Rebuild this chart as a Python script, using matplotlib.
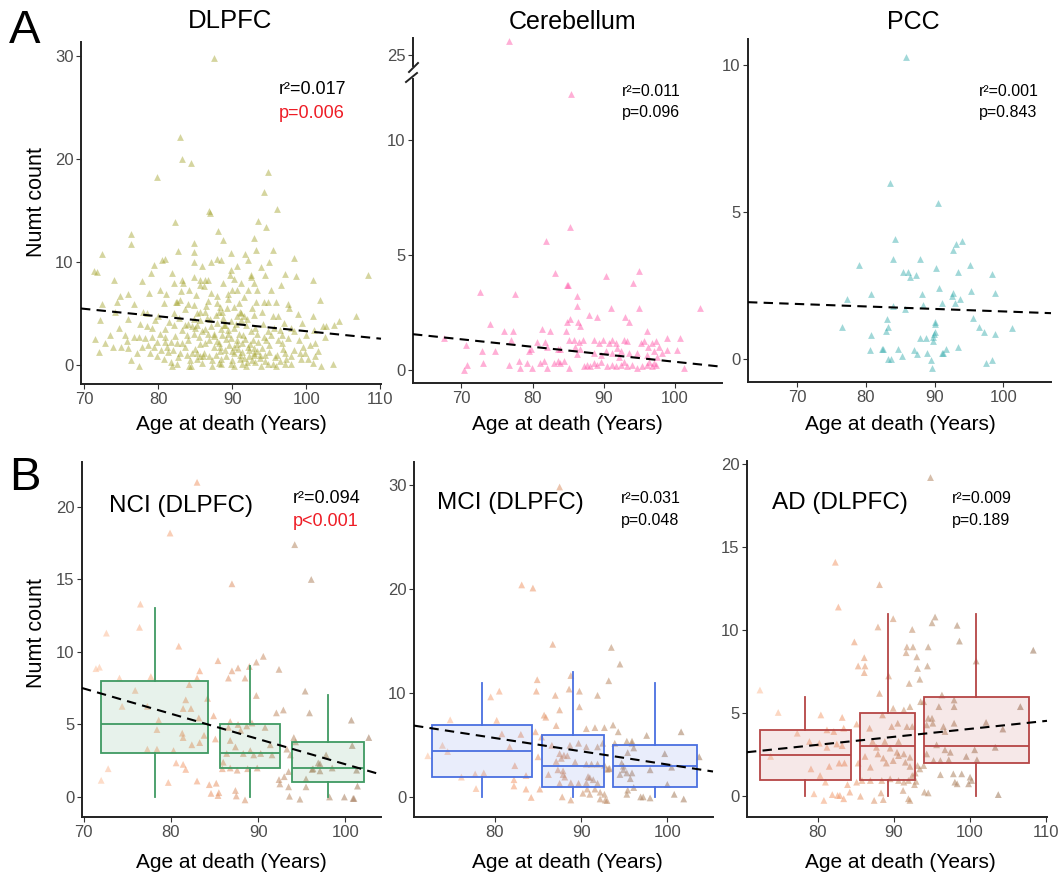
import numpy as np
import matplotlib
matplotlib.use("Agg")
import matplotlib.pyplot as plt
from matplotlib.colors import LinearSegmentedColormap, Normalize
from matplotlib.lines import Line2D

plt.rcParams["font.family"] = ["Liberation Sans", "DejaVu Sans"]

# ----------------------------
# data
# ----------------------------
dlpfc_pts = [
    (87.5, 29.8), (83.0, 22.2), (83.2, 20.0), (84.5, 19.7), (79.9, 18.3), (94.8, 18.8), (94.3, 16.8),
    (96.1, 15.2), (86.9, 15.0), (87.0, 14.8), (93.5, 14.0), (82.3, 13.9), (94.6, 13.4), (88.1, 13.1),
    (76.4, 12.8), (76.3, 11.8), (93.0, 12.4), (88.8, 12.2), (84.9, 11.9), (72.5, 10.8), (71.4, 9.2),
    (71.7, 9.1), (82.7, 11.1), (93.2, 11.2), (95.5, 11.2), (91.8, 10.8), (89.9, 10.9), (98.3, 10.4),
    (80.5, 10.2), (80.9, 10.3), (79.5, 9.8), (87.9, 10.3), (88.5, 10.2), (87.1, 10.0), (84.8, 10.0),
    (84.9, 11.0), (92.1, 10.2), (90.6, 9.7), (95.0, 10.0), (100.9, 8.3), (98.6, 8.7), (106.7, 4.8),
    (108.3, 8.8), (74.1, 8.3), (77.8, 8.2), (83.3, 8.3), (83.4, 8.0), (82.1, 8.0), (84.8, 8.6),
    (85.6, 8.3), (86.3, 8.3), (86.7, 8.3), (88.8, 8.0), (89.8, 9.3), (89.7, 8.8), (92.5, 8.8),
    (92.6, 8.6), (94.4, 8.8), (93.0, 8.0), (85.7, 7.8), (86.2, 7.7), (87.2, 7.0), (89.4, 6.9),
    (90.0, 7.3), (90.7, 7.3), (92.1, 7.3), (93.4, 7.3), (95.2, 7.3), (84.2, 7.3), (80.3, 7.3),
    (81.1, 6.9), (83.0, 6.4), (82.4, 6.2), (82.6, 6.2), (84.8, 5.9), (82.1, 5.1), (80.8, 6.1),
    (75.9, 6.9), (74.8, 6.7), (74.4, 6.2), (72.4, 6.0), (74.2, 5.2), (76.8, 6.0), (78.0, 5.2),
    (78.5, 5.1), (85.7, 5.2), (86.3, 5.2), (88.0, 6.1), (88.2, 5.2), (88.7, 5.2), (90.3, 5.7),
    (91.0, 5.2), (91.2, 5.1), (93.2, 6.2), (94.3, 6.2), (94.8, 6.2), (97.5, 6.0), (97.7, 5.6),
    (95.9, 6.2), (101.8, 6.4), (104.4, 4.3), (103.8, 3.9), (102.7, 3.8), (102.3, 3.8), (100.9, 4.8),
    (99.5, 4.1), (74.7, 3.6), (72.2, 4.4), (72.0, 1.3), (72.9, 2.2), (73.9, 1.8), (75.0, 1.8),
    (76.0, 1.7), (76.7, 2.8), (77.4, 2.8), (77.4, -0.1), (77.8, 1.8), (78.7, 2.0), (79.4, 1.8),
    (79.2, 2.8), (79.9, 0.9), (80.8, 0.6), (81.9, -0.1), (82.6, 0.1), (84.2, -0.1), (84.5, -0.1),
    (81.2, 1.8), (81.7, 2.3), (82.6, 2.2), (83.3, 2.2), (80.3, 3.1), (81.0, 3.5), (82.1, 3.9),
    (83.7, 3.9), (84.6, 3.8), (85.3, 3.9), (83.9, 3.0), (84.8, 3.1), (85.5, 2.8), (83.0, 1.2),
    (83.9, 1.0), (84.6, 1.2), (85.3, 0.6), (85.7, 0.9), (86.4, 2.2), (86.9, 2.5), (87.6, 1.8),
    (88.2, 2.2), (86.2, 1.2), (86.9, 0.9), (87.8, 1.0), (88.5, 0.6), (87.3, -0.1), (88.5, 0.1),
    (90.3, -0.1), (91.4, 0.1), (87.6, 3.1), (88.5, 3.5), (89.4, 3.1), (90.3, 3.6), (88.0, 4.1),
    (88.9, 3.9), (89.8, 4.3), (90.7, 4.8), (91.2, 4.4), (91.9, 3.9), (90.7, 2.5), (91.4, 2.2),
    (92.1, 1.8), (92.8, 2.5), (90.3, 1.2), (91.0, 1.0), (91.6, 0.7), (92.3, 0.9), (93.0, 1.2),
    (93.7, 0.7), (92.3, 1.5), (93.0, 1.7), (93.4, 1.4), (94.1, 1.7), (93.9, -0.1), (94.8, 0.1),
    (95.5, 0.1), (93.4, 3.1), (94.3, 2.8), (94.8, 3.3), (95.7, 3.6), (96.2, 2.5), (96.8, 2.2),
    (97.5, 2.7), (97.1, 1.2), (98.0, 0.9), (98.4, 1.5), (99.1, 1.2), (97.1, 0.1), (98.0, 0.1),
    (99.8, 1.2), (100.2, 0.6), (100.9, 0.2), (101.2, 0.9), (102.0, -0.1), (103.6, 0.1), (100.5, 2.0),
    (101.2, 2.2), (98.4, 3.3), (98.0, 3.6), (96.2, 4.8), (78.5, 3.8), (79.2, 3.6), (79.6, 4.4),
    (85.3, 5.1), (85.7, 4.4), (86.4, 3.5), (86.7, 3.1), (89.0, 1.5), (89.6, 2.0), (90.0, 0.5),
    (90.8, 1.6), (91.5, 3.0), (92.5, 3.3), (89.2, 2.6), (87.0, 4.5), (86.0, 0.2), (92.0, 0.3),
    (94.5, 1.0), (95.0, 2.0), (96.0, 1.0), (96.5, 0.4), (84.0, 2.5), (85.0, 1.6), (82.0, 1.5),
    (81.0, 2.8), (80.0, 4.8), (76.0, 4.5), (73.5, 3.0), (71.5, 2.6), (95.5, 4.8), (97.0, 4.1),
    (99.0, 2.5), (100.0, 3.0), (98.9, 5.0), (101.0, 3.4), (88.4, 5.7), (89.5, 6.5), (92.7, 5.6),
    (91.6, 6.6), (90.2, 8.4), (86.8, 6.3), (85.1, 6.8), (83.6, 5.5), (82.8, 4.6), (81.5, 4.2),
    (78.8, 7.0), (77.5, 4.0), (75.5, 3.0),
    (86.6, 4.6), (87.1, 3.8), (87.5, 2.9), (88.0, 2.4), (88.3, 1.4), (88.8, 4.6), (89.2, 0.9),
    (89.5, 3.4), (89.9, 2.7), (90.2, 1.8), (90.5, 4.0), (90.9, 3.1), (91.3, 1.3), (91.7, 2.6),
    (92.0, 4.5), (92.4, 2.1), (92.7, 0.5), (93.1, 3.6), (93.5, 2.3), (93.8, 1.0), (94.2, 4.0),
    (94.6, 2.5), (95.0, 1.3), (95.3, 3.0), (95.8, 0.8), (96.4, 3.4), (96.9, 1.6), (97.3, 0.6),
    (86.0, 3.3), (85.6, 2.1), (85.2, 1.2), (84.8, 4.5), (84.3, 0.5), (83.7, 1.8), (83.2, 3.4),
    (82.7, 0.8), (82.3, 2.9), (81.8, 0.3), (81.4, 1.3), (80.9, 2.3), (80.4, 1.5), (79.8, 2.3),
    (78.9, 1.2), (78.3, 2.7), (77.2, 1.2), (76.4, 0.5), (75.8, 2.4), (89.3, 5.6), (90.9, 6.1),
    (92.9, 4.9), (94.0, 5.2), (96.8, 3.0), (99.3, 0.6), (99.6, 1.8), (101.6, 1.4), (102.5, 2.8),
    (87.9, 6.7), (86.5, 5.8), (84.0, 6.0), (83.1, 7.2), (91.2, 8.0), (93.9, 9.6), (96.6, 7.8),
    (97.2, 8.9), (81.9, 9.0), (79.0, 9.0), (86.0, 9.7), (88.2, 0.2), (89.8, 0.1), (91.9, -0.1),
    (93.1, 0.3), (95.9, -0.1), (89.1, 3.9), (90.6, 2.1), (88.6, 3.0), (87.8, 4.9), (91.6, 4.8),
    (92.9, 1.0), (94.4, 0.4), (90.0, 1.4), (91.0, 0.6), (88.4, 1.8), (87.3, 0.5), (86.1, 0.9),
    (85.0, 3.6), (84.1, 4.0),
]

cereb_pts = [
    (76.7, 25.6), (85.4, 12.0), (85.2, 6.2), (81.9, 5.6), (83.2, 4.2), (90.3, 4.1), (94.9, 4.3),
    (84.8, 3.7), (85.0, 3.7), (94.1, 3.8), (72.6, 3.4), (77.5, 3.3), (86.3, 3.2), (103.5, 2.7),
    (91.0, 2.7), (94.9, 2.7), (86.3, 2.8), (87.9, 2.4), (89.0, 2.3), (93.0, 2.3), (93.5, 2.1),
    (84.8, 2.1), (85.3, 2.2), (86.4, 2.1), (74.0, 2.0), (81.3, 1.8), (82.4, 1.7), (76.0, 1.7),
    (77.3, 1.7), (84.7, 1.7), (86.7, 1.9), (96.0, 1.7), (67.5, 1.4), (100.7, 1.4), (98.9, 1.4),
    (70.7, 1.1), (72.9, 0.8), (74.7, 0.8), (76.9, 1.3), (73.0, 0.3), (70.8, 0.2), (70.4, 0.0),
    (76.7, 0.2), (78.1, 0.4), (78.2, 0.1), (79.2, 0.3), (79.9, 0.1), (79.5, 0.8), (79.8, 0.9),
    (80.6, 1.2), (81.7, 1.2), (82.0, 1.0), (81.1, 0.3), (81.6, 0.4), (82.0, 0.1), (83.0, 0.3),
    (83.5, 0.4), (83.9, 0.3), (84.4, 0.4), (85.1, 0.1), (83.5, 0.9), (83.9, 0.9), (85.1, 1.3),
    (85.8, 1.3), (86.5, 1.2), (87.1, 1.3), (86.0, 1.0), (86.7, 0.9), (86.2, 0.7),
    (87.2, 0.15), (87.7, 0.2), (88.1, 0.15), (88.6, 0.3), (89.1, 0.2), (89.6, 0.35), (90.5, 0.15),
    (91.1, 0.2), (91.7, 0.15), (92.4, 0.2), (92.8, 0.35), (93.3, 0.15), (94.0, 0.2), (94.7, 0.07),
    (95.4, 0.15), (96.1, 0.2), (96.8, 0.15), (97.4, 0.2),
    (88.6, 1.3), (89.3, 1.16), (89.9, 1.3), (90.7, 1.16), (91.2, 1.3), (91.7, 1.16), (91.9, 0.94),
    (92.4, 0.8), (92.8, 1.3), (93.3, 1.24),
    (88.6, 0.73), (89.6, 0.65), (90.3, 0.8), (91.2, 0.73), (92.2, 0.58), (93.5, 0.73), (94.7, 0.73),
    (95.2, 1.16), (95.6, 1.24), (96.2, 1.0), (96.8, 1.16), (97.3, 1.24), (97.8, 1.0), (98.9, 0.87),
    (100.3, 0.87), (96.1, 0.65), (97.1, 0.8), (97.5, 0.58), (98.2, 0.73), (96.3, 0.36), (97.1, 0.29),
    (101.2, 0.1),
]

pcc_pts = [
    (85.8, 10.3), (83.5, 6.0), (90.5, 5.3), (84.3, 4.1), (94.0, 4.0), (93.1, 3.9), (92.7, 3.7),
    (83.9, 3.4), (87.9, 3.4), (79.0, 3.2), (95.1, 3.2), (90.2, 3.1), (85.4, 2.95), (86.1, 2.95),
    (86.4, 2.8), (87.3, 2.85), (93.4, 2.95), (98.3, 2.9), (90.6, 2.4), (95.3, 2.3), (92.6, 2.25),
    (92.5, 2.15), (98.7, 2.25), (80.8, 2.2), (88.1, 2.2), (93.7, 2.05), (77.3, 2.05), (91.0, 1.9),
    (93.0, 1.9), (84.0, 1.8), (88.3, 1.85), (85.7, 1.7), (95.6, 1.4), (83.1, 1.35), (76.6, 1.1),
    (83.2, 1.1), (82.9, 0.95), (90.0, 1.25), (90.0, 1.2), (96.5, 1.1), (101.2, 1.05), (97.2, 0.9),
    (98.8, 0.85), (90.1, 0.9), (89.9, 0.85), (80.8, 0.8), (87.9, 0.7), (88.8, 0.7), (89.7, 0.75),
    (89.7, 0.6), (93.4, 0.4), (91.7, 0.35), (91.0, 0.2), (91.2, 0.2), (80.6, 0.3), (82.3, 0.35),
    (82.5, 0.35), (84.7, 0.35), (87.0, 0.3), (87.4, 0.15), (88.9, 0.2), (85.3, 0.1), (83.2, 0.0),
    (83.6, -0.02), (89.5, -0.05), (89.6, -0.3), (98.4, -0.05), (97.4, -0.15),
]

nci_pts = [
    (83.0, 21.7), (79.9, 18.2), (94.2, 17.4), (96.1, 15.0), (87.0, 14.7), (76.5, 13.3), (76.4, 11.7),
    (72.6, 11.3), (80.9, 10.4), (90.6, 9.7), (85.4, 9.4), (89.8, 9.3), (89.0, 9.0), (71.4, 8.85),
    (71.8, 8.95), (87.7, 8.9), (87.0, 8.7), (92.4, 8.8), (83.3, 8.7), (86.6, 8.2), (88.5, 8.2),
    (77.7, 8.3), (74.1, 8.2), (83.0, 8.2), (82.1, 7.75), (75.9, 7.35), (95.4, 7.3), (84.2, 6.8),
    (89.8, 7.0), (81.7, 6.7), (74.4, 6.25), (81.4, 6.1), (82.3, 6.1), (77.3, 6.25), (84.9, 5.6),
    (92.1, 5.8), (92.9, 6.0), (95.9, 5.8), (83.2, 5.45), (78.6, 5.3), (78.4, 4.65), (86.8, 5.2),
    (86.6, 4.8), (87.7, 5.0), (88.0, 4.6), (88.7, 4.9), (89.3, 5.1), (90.8, 4.8), (81.3, 4.4),
    (81.4, 4.1), (83.8, 4.25), (85.1, 4.0), (83.3, 3.75), (82.4, 3.6), (77.3, 3.3), (78.4, 3.3),
    (80.3, 3.2), (86.8, 3.9), (87.4, 3.45), (88.3, 3.0), (89.1, 3.2), (89.5, 2.9), (90.3, 3.0),
    (91.4, 3.6), (91.6, 2.9), (94.1, 4.1), (94.3, 3.8), (93.3, 3.3), (93.7, 2.9), (97.8, 2.9),
    (96.9, 2.35), (96.3, 1.95), (86.4, 3.0), (86.0, 2.4), (85.9, 1.95), (86.8, 2.0), (87.6, 1.85),
    (88.8, 1.95), (89.9, 2.0), (80.6, 2.35), (81.4, 2.25), (81.7, 1.9), (72.8, 1.95), (72.0, 1.15),
    (79.7, 1.0), (83.0, 1.1), (84.4, 0.85), (85.2, 0.95), (84.6, 0.25), (85.4, 0.1), (85.5, 0.3),
    (87.4, 0.45), (87.5, 0.07), (88.5, -0.2), (92.4, 1.2), (92.5, 0.9), (93.0, 1.4), (93.5, 0.7),
    (93.6, 0.05), (94.8, -0.15), (95.5, 1.25), (95.5, 0.7), (93.5, 1.75), (100.7, 5.3), (100.8, 3.55),
    (98.2, 0.0), (99.9, 0.0), (100.9, -0.1), (101.0, -0.1), (101.3, 1.85), (102.7, 4.1), (101.4, 0.75),
    (96.2, 1.9), (97.1, 1.8), (97.1, 2.3), (98.5, 2.0),
]

mci_pts = [
    (87.5, 29.8), (83.1, 20.4), (84.4, 20.1), (86.7, 14.7), (93.5, 14.4), (94.5, 12.8), (88.8, 11.7),
    (84.9, 11.3), (93.2, 11.2), (84.8, 10.2), (80.5, 10.2), (88.6, 10.4), (89.8, 10.2), (79.5, 9.65),
    (87.0, 9.8), (91.9, 9.8), (89.8, 8.7), (87.5, 8.4), (85.7, 7.9), (85.9, 7.7), (74.8, 7.45),
    (80.2, 7.4), (87.1, 6.9), (93.7, 6.95), (90.6, 6.6), (91.6, 6.7), (92.7, 6.7), (94.3, 6.3),
    (101.6, 6.3), (83.0, 6.05), (80.8, 6.1), (84.7, 6.3), (97.6, 5.95), (95.3, 5.4), (95.9, 5.4),
    (85.4, 5.8), (93.9, 5.2), (95.9, 5.2), (86.6, 5.0), (88.7, 5.0), (89.7, 5.2), (90.6, 4.85),
    (91.9, 4.85), (92.5, 5.2), (81.7, 4.85), (73.9, 5.0), (74.5, 4.4), (96.1, 4.75), (95.4, 4.3),
    (99.7, 4.2), (72.2, 4.0), (87.5, 4.2), (88.0, 4.05), (88.4, 4.0), (87.1, 3.45), (87.7, 3.75),
    (85.0, 3.9), (103.7, 3.9), (89.3, 3.4), (90.6, 3.2), (91.2, 3.2), (91.9, 3.2), (92.7, 3.1),
    (93.3, 2.8), (94.7, 3.3), (94.9, 3.0), (82.3, 3.05), (100.5, 2.9), (98.0, 2.65), (87.3, 2.65),
    (87.9, 2.55), (93.2, 2.75), (93.0, 2.7), (95.3, 2.35), (95.9, 2.35), (94.5, 2.2), (94.9, 2.65),
    (86.2, 2.2), (87.9, 2.2), (88.1, 1.95), (76.1, 1.95), (77.7, 2.25), (78.7, 2.35), (83.6, 2.1),
    (90.8, 2.0), (91.0, 1.9), (91.4, 1.7), (95.7, 1.8), (82.2, 1.7), (85.2, 0.8), (82.2, 1.1),
    (87.5, 1.35), (88.8, 1.4), (89.7, 1.35), (90.6, 1.4), (91.9, 1.35), (100.0, 1.25), (77.8, 0.85),
    (83.6, 0.8), (90.7, 0.8), (91.6, 0.8), (95.3, 0.3), (90.2, 0.4), (91.0, 0.3), (92.2, 0.5),
    (92.7, 0.3), (84.2, 0.0), (87.8, 0.05), (96.9, 0.05), (97.2, 0.05), (98.0, -0.05), (100.8, 0.3),
    (101.9, -0.15), (88.8, -0.25), (92.2, -0.15), (92.8, -0.25), (93.0, -0.3), (96.1, 0.95), (95.4, 0.7),
]

ad_pts = [
    (94.8, 19.2), (82.3, 14.1), (82.7, 11.4), (88.1, 12.75), (95.4, 10.8), (95.0, 10.45), (89.9, 10.7),
    (87.9, 10.2), (98.3, 10.3), (92.4, 10.05), (98.6, 9.35), (84.8, 9.3), (91.7, 9.0), (92.5, 9.0),
    (94.5, 9.0), (108.3, 8.8), (86.1, 8.35), (93.0, 8.4), (91.6, 8.65), (100.8, 8.15), (85.3, 7.85),
    (86.2, 7.85), (94.4, 7.85), (93.1, 7.7), (86.1, 7.45), (89.3, 7.25), (93.4, 7.05), (92.0, 6.8),
    (72.4, 6.4), (88.1, 6.2), (96.3, 6.1), (95.9, 5.4), (97.9, 5.8), (97.9, 5.4), (106.6, 5.4),
    (93.5, 5.7), (93.9, 5.7), (74.8, 5.05), (80.4, 4.9), (88.5, 4.9), (89.9, 5.3), (91.3, 5.2),
    (92.1, 5.4), (83.2, 4.75), (85.1, 4.35), (94.5, 4.7), (95.0, 4.7), (94.3, 4.3), (95.1, 4.4),
    (102.1, 4.45), (97.9, 4.4), (90.5, 4.4), (89.7, 4.2), (91.7, 4.2), (92.4, 4.2), (96.5, 4.2),
    (96.7, 3.9), (104.3, 4.05), (81.2, 4.0), (82.1, 3.9), (83.4, 4.1), (86.8, 4.1), (77.3, 3.8),
    (78.9, 3.3), (80.2, 3.2), (81.2, 2.95), (82.5, 3.15), (83.2, 3.05), (87.2, 3.3), (87.7, 2.95),
    (88.8, 3.3), (90.6, 3.3), (89.5, 2.9), (90.4, 2.65), (95.6, 3.1), (96.7, 2.8), (97.4, 2.65),
    (103.3, 2.95), (100.6, 2.8), (73.8, 2.4), (86.2, 2.4), (87.9, 2.55), (88.6, 2.3), (90.6, 2.45),
    (91.3, 2.55), (92.1, 2.35), (94.3, 2.55), (95.2, 2.15), (96.1, 2.15), (97.2, 2.2), (100.9, 2.2),
    (99.5, 2.4), (93.1, 1.85), (93.9, 1.85), (93.4, 1.65), (91.5, 2.05), (92.1, 1.8), (89.0, 2.0),
    (89.9, 2.15), (85.3, 2.0), (86.9, 1.75), (82.8, 2.0), (83.5, 2.0), (81.5, 1.8), (79.1, 1.65),
    (80.3, 1.25), (81.0, 0.85), (96.1, 1.3), (97.8, 1.35), (98.9, 1.35), (100.0, 1.15), (100.2, 0.95),
    (99.8, 0.75), (98.3, 0.75), (98.0, 0.85), (92.8, 1.4), (92.4, 1.25), (91.9, 0.95), (85.8, 0.95),
    (86.9, 0.95), (88.4, 0.95), (89.5, 1.05), (90.6, 0.95), (91.3, 0.85), (83.9, 0.7), (85.1, 0.85),
    (92.9, 0.9), (92.7, 0.7), (94.0, 0.25), (94.5, 0.2), (91.2, 0.35), (103.7, 0.1), (79.5, 0.15),
    (81.9, 0.1), (82.6, 0.05), (82.9, 0.05), (84.2, 0.25), (85.6, 0.0), (83.4, -0.15), (80.8, -0.25),
    (87.4, -0.25), (88.6, -0.2), (88.3, 0.2), (91.9, -0.15), (92.1, -0.25),
]

# fitted lines: value at age 70 and slope per year
fit_y70 = {"DLPFC": 5.5, "Cerebellum": 1.33, "PCC": 1.87, "NCI": 7.48, "MCI": 6.97, "AD": 2.62}
fit_slope = {"DLPFC": -0.0724, "Cerebellum": -0.0326, "PCC": -0.0085, "NCI": -0.174, "MCI": -0.127, "AD": 0.048}

stats_text = {
    "DLPFC": ("r²=0.017", "p=0.006"),
    "Cerebellum": ("r²=0.011", "p=0.096"),
    "PCC": ("r²=0.001", "p=0.843"),
    "NCI": ("r²=0.094", "p<0.001"),
    "MCI": ("r²=0.031", "p=0.048"),
    "AD": ("r²=0.009", "p=0.189"),
}

# box summaries per age group: position, width, whisker low, q1, median, q3, whisker high
box_pos = {"NCI": [78.15, 89.05, 98.05], "MCI": [78.5, 89.0, 98.55], "AD": [78.35, 89.2, 100.8]}
box_width = {"NCI": [12.3, 6.9, 8.3], "MCI": [11.6, 7.2, 9.7], "AD": [11.9, 7.2, 13.8]}
box_lo = {"NCI": [0, 0, 0], "MCI": [0, 0, 0], "AD": [0, 0, 0]}
box_q1 = {"NCI": [3, 2, 1], "MCI": [2, 1, 1], "AD": [1, 1, 2]}
box_med = {"NCI": [5, 3, 2], "MCI": [4.5, 3, 3], "AD": [2.5, 3, 3]}
box_q3 = {"NCI": [8, 5, 3.8], "MCI": [7, 6, 5], "AD": [4, 5, 6]}
box_hi = {"NCI": [13, 9, 7], "MCI": [11, 12, 11], "AD": [6, 11, 11]}
box_color = {"NCI": "#3f9a62", "MCI": "#4a6fe0", "AD": "#b54545"}

# ----------------------------
# figure
# ----------------------------
W, H = 1064, 881
fig = plt.figure(figsize=(W / 100, H / 100), dpi=100)


def rect(l, t, r, b):
    return [l / W, 1 - b / H, (r - l) / W, (b - t) / H]


def style(ax, xlim, ylim, xticks, yticks):
    ax.set_xlim(xlim)
    ax.set_ylim(ylim)
    ax.set_xticks(xticks)
    ax.set_yticks(yticks)
    for s in ["top", "right"]:
        ax.spines[s].set_visible(False)
    for s in ["left", "bottom"]:
        ax.spines[s].set_linewidth(1.4)
        ax.spines[s].set_color("#222222")
    ax.tick_params(length=3.5, width=0.8, color="#333333", labelcolor="#4d4d4d",
                   labelsize=12, pad=2)
    ax.patch.set_alpha(0)


def scatter(ax, pts, color, alpha=0.45):
    x = [p[0] for p in pts]
    y = [p[1] for p in pts]
    ax.scatter(x, y, marker="^", s=24, c=color, alpha=alpha, linewidths=0, zorder=2)


def fit(ax, key):
    xl = np.array(ax.get_xlim())
    ax.plot(xl, fit_y70[key] + fit_slope[key] * (xl - 70), color="black", lw=1.5,
            ls=(0, (4.5, 3)), zorder=4, clip_on=False)


def label(x, y, s, size, **kw):
    fig.text(x / W, 1 - y / H, s, fontsize=size, va="center", **kw)


age_cmap = LinearSegmentedColormap.from_list("age", ["#fcc09c", "#f29a6c", "#b58a66", "#9a7356"])
age_norm = Normalize(72, 106)

# ---- A: DLPFC
ax = fig.add_axes(rect(81, 42, 381, 384))
style(ax, (69.6, 110.1), (-1.8, 31.4), [70, 80, 90, 100, 110], [0, 10, 20, 30])
scatter(ax, dlpfc_pts, "#9c9c1c", alpha=0.42)
fit(ax, "DLPFC")

# ---- A: Cerebellum (broken y axis)
ax_lo = fig.add_axes(rect(413, 79, 722, 383))
style(ax_lo, (63.2, 106.6), (-0.57, 12.65), [70, 80, 90, 100], [0, 5, 10])
scatter(ax_lo, cereb_pts, "#ff4fa5")
fit(ax_lo, "Cerebellum")

ax_hi = fig.add_axes(rect(413, 38, 722, 66))
style(ax_hi, (63.2, 106.6), (24.52, 25.74), [], [25])
ax_hi.spines["bottom"].set_visible(False)
scatter(ax_hi, cereb_pts, "#ff4fa5")

for (x1, y1, x2, y2) in [(409, 72, 418, 63), (406, 82, 417, 73)]:
    fig.add_artist(Line2D([x1 / W, x2 / W], [1 - y1 / H, 1 - y2 / H],
                          transform=fig.transFigure, color="#222222", lw=1.4))

# ---- A: PCC
ax = fig.add_axes(rect(748, 39, 1051, 382))
style(ax, (62.9, 106.9), (-0.79, 10.9), [70, 80, 90, 100], [0, 5, 10])
scatter(ax, pcc_pts, "#2fa9aa")
fit(ax, "PCC")

# ---- B: diagnosis groups
panels_b = [
    ("NCI", nci_pts, rect(82, 462, 381, 817), (69.8, 104.1), (-1.38, 23.1), [70, 80, 90, 100], [0, 5, 10, 15, 20]),
    ("MCI", mci_pts, rect(414, 462, 713, 817), (70.6, 105.3), (-1.88, 32.2), [80, 90, 100], [0, 10, 20, 30]),
    ("AD", ad_pts, rect(747, 461, 1047, 817), (70.7, 110.1), (-1.25, 20.2), [80, 90, 100, 110], [0, 5, 10, 15, 20]),
]
for key, pts, pos, xlim, ylim, xt, yt in panels_b:
    ax = fig.add_axes(pos)
    style(ax, xlim, ylim, xt, yt)
    cols = age_cmap(age_norm([p[0] for p in pts]))
    scatter(ax, pts, cols, alpha=0.55)
    col = box_color[key]
    bstats = [dict(whislo=lo, q1=q1, med=m, q3=q3, whishi=hi, fliers=[])
              for lo, q1, m, q3, hi in zip(box_lo[key], box_q1[key], box_med[key],
                                           box_q3[key], box_hi[key])]
    ax.bxp(bstats, positions=box_pos[key], widths=box_width[key], patch_artist=True,
           showcaps=False, showfliers=False, manage_ticks=False, zorder=3,
           boxprops=dict(facecolor=matplotlib.colors.to_rgba(col, 0.12), edgecolor=col, linewidth=1.3),
           medianprops=dict(color=col, linewidth=1.3),
           whiskerprops=dict(color=col, linewidth=1.3))
    fit(ax, key)

# ---- titles & annotations
label(230, 21, "DLPFC", 18.5, ha="center")
label(573, 22, "Cerebellum", 18, ha="center")
label(913, 22, "PCC", 18, ha="center")
label(9, 31, "A", 34)
label(9, 478, "B", 34)

label(181, 506, "NCI (DLPFC)", 17.5, ha="center")
label(510, 503, "MCI (DLPFC)", 17.5, ha="center")
label(840, 503, "AD (DLPFC)", 17.5, ha="center")

text_pos = {
    "DLPFC": (279, 90, 114, 13), "Cerebellum": (622, 91, 113, 11.5), "PCC": (979, 91, 113, 11.5),
    "NCI": (293, 498, 522, 13), "MCI": (621, 499, 521, 11.5), "AD": (952, 499, 521, 11.5),
}
for key, (x, y1, y2, fs) in text_pos.items():
    r2, p = stats_text[key]
    label(x, y1, r2, fs, color="black")
    pcol = "#ee1c25" if key in ("DLPFC", "NCI") else "black"
    label(x, y2, p, fs, color=pcol)

for x, y in [(231, 425), (567, 425), (900, 425), (231, 863), (567, 863), (900, 863)]:
    label(x, y, "Age at death (Years)", 15, ha="center")
for y in [202, 633]:
    label(37, y, "Numt count", 15.5, ha="center", rotation=90)

fig.savefig("out.png", dpi=100)
